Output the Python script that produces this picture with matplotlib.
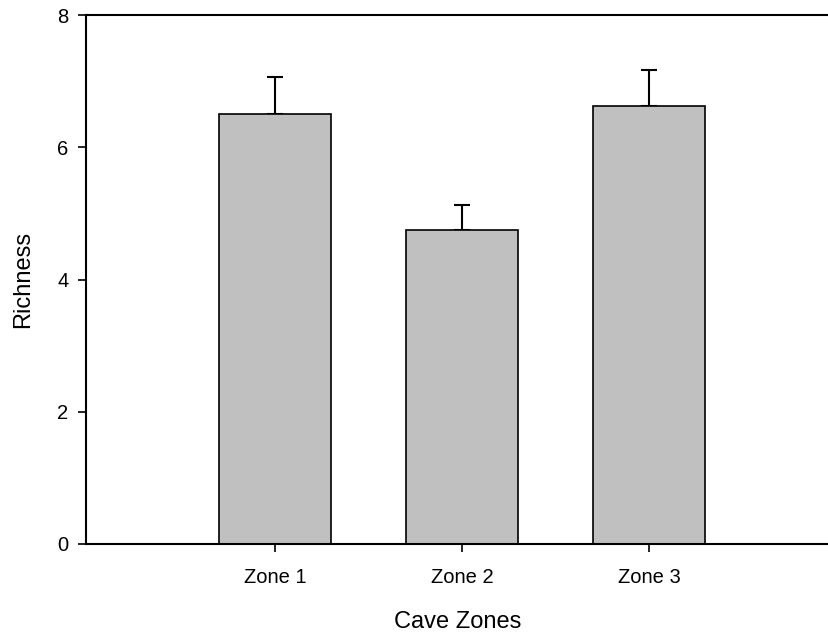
import numpy as np
import matplotlib.pyplot as plt

plt.rcParams['font.family'] = ['Liberation Sans', 'DejaVu Sans']

zones = ['Zone 1', 'Zone 2', 'Zone 3']
richness = [6.50, 4.75, 6.63]
richness_se = [0.57, 0.38, 0.54]

fig = plt.figure(figsize=(8.29, 6.34), dpi=100)
ax = fig.add_axes([0.1037, 0.142, 0.8963, 0.834])

x = np.arange(1, len(zones) + 1)
ax.bar(x, richness, width=0.6, color='#c0c0c0', edgecolor='black', linewidth=1.2,
       zorder=2)
# upper error bars only
ax.errorbar(x, richness, yerr=[np.zeros(len(richness)), richness_se], fmt='none',
            ecolor='black', elinewidth=1.5, capsize=6, capthick=1.5, zorder=1)

ax.set_xlim(-0.01, 3.96)
ax.set_ylim(0, 8)
ax.set_yticks([0, 2, 4, 6, 8])
ax.set_xticks(x)
ax.set_xticklabels(zones)
ax.tick_params(direction='out', length=5.5, width=1.2, labelsize=14.5)
ax.tick_params(axis='x', pad=12)
ax.tick_params(axis='y', pad=7)

ax.spines['right'].set_visible(False)
for s in ['left', 'bottom', 'top']:
    ax.spines[s].set_linewidth(1.5)

ax.set_xlabel('Cave Zones', fontsize=17, labelpad=17)
ax.set_ylabel('Richness', fontsize=17, labelpad=17)

plt.savefig('out.png', dpi=100)
